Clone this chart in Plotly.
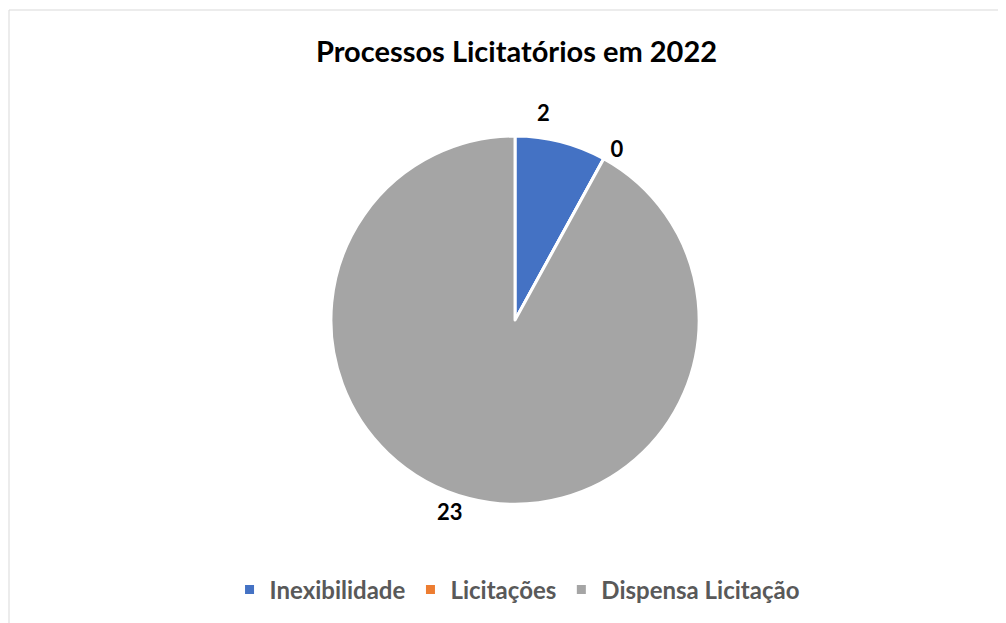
import math
import plotly.graph_objects as go

categories = ["Inexibilidade", "Licitações", "Dispensa Licitação"]
values = [2, 0, 23]
colors = ["#4472C4", "#ED7D31", "#A5A5A5"]

W, H = 1006, 623
dom_x = [0.3, 0.708]
dom_y = [0.2035, 0.7945]
label_font = dict(family="Lato", size=22, color="black", weight="bold")

# the first slice's label is drawn as an annotation (avoids plotly's leader line),
# the others use the pie's own outside labels
templates = ["" if i == 0 else "%{value}" for i in range(len(values))]

fig = go.Figure()
fig.add_trace(go.Pie(
    labels=categories,
    values=values,
    sort=False,
    direction="clockwise",
    rotation=0,
    marker=dict(colors=colors, line=dict(color="white", width=3)),
    texttemplate=templates,
    textposition="outside",
    outsidetextfont=label_font,
    domain=dict(x=dom_x, y=dom_y),
    showlegend=True,
    hoverinfo="label+value",
))

# annotation for first slice at its mid-angle
total = sum(values)
cx = (dom_x[0] + dom_x[1]) / 2 * W
cy = (1 - (dom_y[0] + dom_y[1]) / 2) * H
r = (dom_y[1] - dom_y[0]) * H / 2
mid = values[0] / total * 360 / 2
ang = math.radians(mid * 0.55)
dist = r * 1.14
ax = cx + dist * math.sin(ang)
ay = cy - dist * math.cos(ang)

fig.update_layout(
    width=W, height=H,
    margin=dict(l=0, r=0, t=0, b=0),
    paper_bgcolor="white",
    title=dict(text="<b>Processos Licitatórios em 2022</b>", x=0.5055, xanchor="center",
               y=0.929, yanchor="middle",
               font=dict(family="Lato", size=29, color="black")),
    legend=dict(orientation="h", x=0.506, xanchor="center", y=0.066, yanchor="middle",
                font=dict(family="Lato", size=24, color="#595959", weight="bold"),
                itemwidth=30, traceorder="normal"),
    annotations=[dict(text=str(values[0]), x=ax / W, y=1 - ay / H, xref="paper", yref="paper",
                      showarrow=False, xanchor="center", yanchor="middle", font=label_font)],
    shapes=[dict(type="rect", xref="paper", yref="paper", x0=1 / W, x1=1.01, y0=-0.01, y1=1 - 2 / H,
                 line=dict(color="#D9D9D9", width=1), fillcolor="rgba(0,0,0,0)", layer="below")],
)
fig.write_html("out.html")
